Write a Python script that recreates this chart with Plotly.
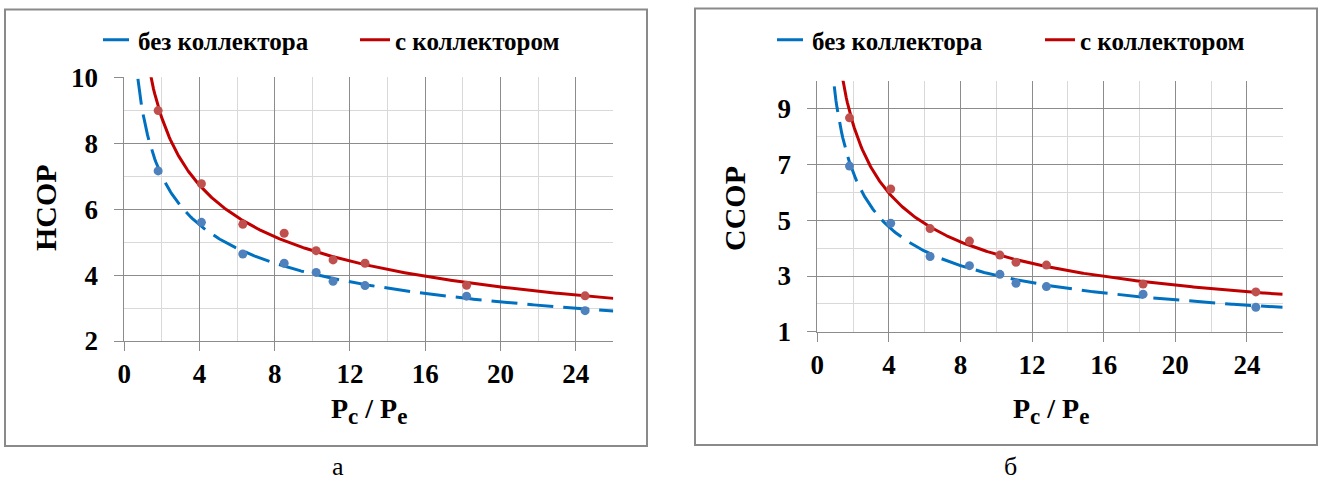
import numpy as np
import plotly.graph_objects as go

# ---- data ----
pr = [1.8, 4.1, 6.3, 8.5, 10.2, 11.1, 12.8, 18.2, 24.5]          # Pc/Pe
hcop_no = [7.16, 5.60, 4.64, 4.36, 4.08, 3.81, 3.68, 3.36, 2.92]  # без коллектора
hcop_yes = [8.99, 6.77, 5.54, 5.27, 4.74, 4.46, 4.36, 3.69, 3.37]  # с коллектором
ccop_no = [6.94, 4.89, 3.70, 3.37, 3.06, 2.74, 2.62, 2.35, 1.88]
ccop_yes = [8.67, 6.12, 4.70, 4.25, 3.75, 3.49, 3.39, 2.71, 2.43]

name_no = "без коллектора"
name_yes = "с коллектором"
panel_labels = ["а", "б"]
y_titles = ["HCOP", "CCOP"]
x_title = ("P<sub><span style='font-size:23px'>c</span></sub> / "
           "P<sub><span style='font-size:23px'>e</span></sub>")

W, H = 1319, 481
BLUE_LINE, RED_LINE = "#0070C0", "#C00000"
BLUE_PT, RED_PT = "#4F81BD", "#C0504D"
SERIF = "Liberation Serif, 'Times New Roman', Times, 'DejaVu Serif', serif"
MAJ, MINC = "#8C8C8C", "#D9D9D9"


def px(x):
    return x / W


def py(y):
    return 1 - y / H


def power_trend(xs, ys):
    # Excel-style power trendline fitted to the data points
    b, ln_a = np.polyfit(np.log(xs), np.log(ys), 1)
    xx = np.linspace(0.4, 26, 400)
    return xx, np.exp(ln_a) * xx ** b


fig = go.Figure()

panels = [
    (hcop_no, hcop_yes, "x", "y", "legend"),
    (ccop_no, ccop_yes, "x2", "y2", "legend2"),
]
for no, yes, xa, ya, lg in panels:
    for vals, lc, pc, nm, dash in [
        (no, BLUE_LINE, BLUE_PT, name_no, "26px,10px"),
        (yes, RED_LINE, RED_PT, name_yes, "solid"),
    ]:
        tx, ty = power_trend(pr, vals)
        fig.add_trace(go.Scatter(x=tx, y=ty, mode="lines", name=nm,
                                 line=dict(color=lc, width=3, dash=dash),
                                 xaxis=xa, yaxis=ya, legend=lg, hoverinfo="skip"))
        fig.add_trace(go.Scatter(x=pr, y=vals, mode="markers", showlegend=False,
                                 marker=dict(color=pc, size=9),
                                 xaxis=xa, yaxis=ya))

tickfont = dict(family=SERIF, size=27, color="black", weight="bold")


def xaxis(domain):
    return dict(domain=domain, range=[0, 26], tick0=0, dtick=4,
                showgrid=True, gridcolor=MAJ, gridwidth=1,
                minor=dict(dtick=2, showgrid=True, gridcolor=MINC, gridwidth=1),
                showline=True, linecolor=MAJ, linewidth=1,
                ticks="outside", ticklen=9, tickcolor=MAJ, tickwidth=1,
                zeroline=False, tickfont=tickfont, ticklabelstandoff=0,
                fixedrange=True)


def yaxis(domain, rng, t0, anchor):
    return dict(domain=domain, range=rng, tick0=t0, dtick=2, anchor=anchor,
                showgrid=True, gridcolor=MAJ, gridwidth=1,
                minor=dict(tick0=0, dtick=1, showgrid=True, gridcolor=MINC, gridwidth=1),
                showline=True, linecolor=MAJ, linewidth=1,
                ticks="outside", ticklen=9, tickcolor=MAJ, tickwidth=1,
                zeroline=False, tickfont=tickfont, ticklabelstandoff=11,
                fixedrange=True)


legfont = dict(family=SERIF, size=25, color="black", weight="bold")

fig.update_layout(
    width=W, height=H,
    margin=dict(l=0, r=0, t=0, b=0, autoexpand=False),
    paper_bgcolor="white", plot_bgcolor="white",
    xaxis=xaxis([px(124.3), px(613.3)]),
    yaxis=yaxis([py(341), py(77.3)], [2, 10], 2, "x"),
    xaxis2=dict(xaxis([px(817.3), px(1282.7)]), anchor="y2"),
    yaxis2=yaxis([py(331.8), py(80.7)], [1, 10], 1, "x2"),
    legend=dict(orientation="h", x=px(98), y=py(40), xanchor="left", yanchor="middle",
                font=legfont, bgcolor="rgba(0,0,0,0)", entrywidth=212, entrywidthmode="pixels"),
    legend2=dict(orientation="h", x=px(772), y=py(40), xanchor="left", yanchor="middle",
                 font=legfont, bgcolor="rgba(0,0,0,0)", entrywidth=223, entrywidthmode="pixels"),
    showlegend=True,
)
fig.layout.xaxis.anchor = "y"

# chart frames
for x0, x1, y0, y1 in [(5, 647, 9.5, 446), (695, 1317, 8.5, 445)]:
    fig.add_shape(type="rect", xref="paper", yref="paper",
                  x0=px(x0), x1=px(x1), y0=py(y1), y1=py(y0),
                  line=dict(color="#8A8A8A", width=2), fillcolor="rgba(0,0,0,0)")

titlefont = dict(family=SERIF, size=30, color="black", weight="bold")
xtitlefont = dict(family=SERIF, size=28, color="black", weight="bold")
for i, (ytx, ytpos, xtpos, lab) in enumerate([
    (y_titles[0], (45, 208), (369, 411), (338, 466)),
    (y_titles[1], (734, 208), (1051, 411), (1010, 466)),
]):
    fig.add_annotation(text=ytx, x=px(ytpos[0]), y=py(ytpos[1]), xref="paper", yref="paper",
                       showarrow=False, textangle=-90, font=titlefont,
                       xanchor="center", yanchor="middle")
    fig.add_annotation(text=x_title, x=px(xtpos[0]), y=py(xtpos[1]), xref="paper", yref="paper",
                       showarrow=False, font=xtitlefont, xanchor="center", yanchor="middle")
    fig.add_annotation(text=panel_labels[i], x=px(lab[0]), y=py(lab[1]), xref="paper",
                       yref="paper", showarrow=False,
                       font=dict(family=SERIF, size=26, color="black"),
                       xanchor="center", yanchor="middle")

fig.write_html("out.html", config={"displayModeBar": False},
               post_script="document.body.style.margin='0';")
